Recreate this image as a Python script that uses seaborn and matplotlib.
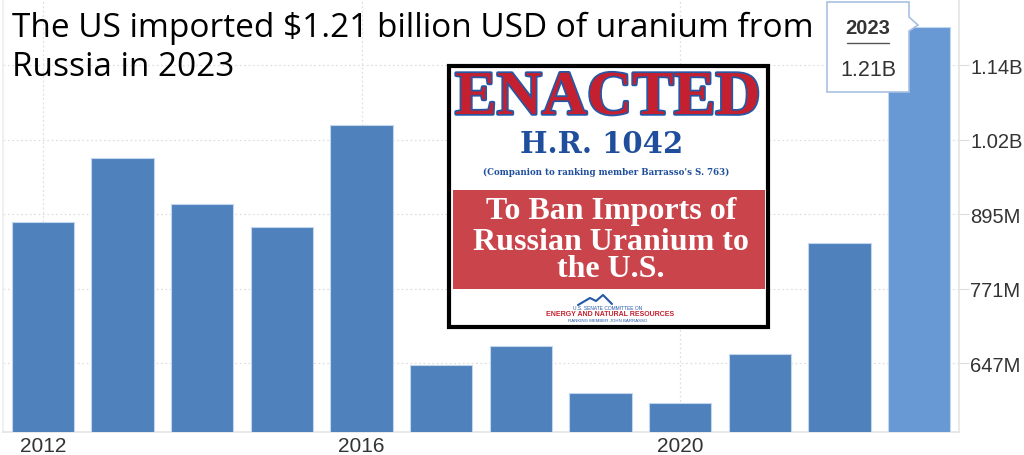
import numpy as np
import pandas as pd
import matplotlib
matplotlib.use("Agg")
import matplotlib.pyplot as plt
import matplotlib.patheffects as pe
from matplotlib.patches import Rectangle, Polygon
import seaborn as sns

# Data (USD)
years = ["2012", "2013", "2014", "2015", "2016", "2017", "2018", "2019", "2020", "2021", "2022", "2023"]
imports_musd = [882, 988, 912, 873, 1043, 644, 675, 597, 580, 662, 847, 1206]
tick_values = [647, 771, 895, 1019, 1143]
tick_labels = ["647M", "771M", "895M", "1.02B", "1.14B"]
shown_years = ["2012", "2016", "2020"]

df = pd.DataFrame({"year": years, "value": imports_musd})

sns.set_style("white")
plt.rcParams["font.family"] = ["Liberation Sans", "DejaVu Sans"]

fig = plt.figure(figsize=(10.24, 4.56), dpi=100)
ax = fig.add_axes([0.003, 0.0504, 0.9335, 0.9496])

bar_palette = {y: "#4f81bd" for y in years}
bar_palette["2023"] = "#6899d4"
sns.barplot(data=df, x="year", y="value", hue="year", palette=bar_palette, saturation=1,
            width=0.78, legend=False, ax=ax, edgecolor="#c3d6ee", linewidth=0.8,
            zorder=3)

ax.set_xlim(-0.5, 11.5)
ax.set_ylim(532.15, 1252.85)
ax.yaxis.tick_right()
ax.set_yticks(tick_values)
ax.set_yticklabels(tick_labels)
ax.set_xticks([years.index(y) for y in shown_years])
ax.set_xticklabels(shown_years)
ax.tick_params(axis="y", length=7, color="#dddddd", labelsize=14.5, labelcolor="#333333", pad=1)
ax.tick_params(axis="x", length=0, labelsize=15, labelcolor="#333333", pad=3)
ax.set_xlabel("")
ax.set_ylabel("")
ax.grid(True, color="#e0e0e0", linestyle=(0, (1.5, 2)), linewidth=0.9, zorder=0)
ax.set_axisbelow(True)
ax.spines["top"].set_visible(False)
ax.spines["right"].set_color("#e4e4e4")
ax.spines["bottom"].set_color("#e4e4e4")
ax.spines["left"].set_color("#eeeeee")
for s in ["right", "bottom", "left"]:
    ax.spines[s].set_linewidth(1.2)

# overlay in pixel coordinates for the annotations
ov = fig.add_axes([0, 0, 1, 1])
ov.set_xlim(0, 1024)
ov.set_ylim(456, 0)
ov.axis("off")

# headline
ov.text(12, 37, "The US imported $1.21 billion USD of uranium from", fontsize=24,
        family=["Open Sans", "DejaVu Sans"], color="black", va="baseline")
ov.text(12, 76, "Russia in 2023", fontsize=24,
        family=["Open Sans", "DejaVu Sans"], color="black", va="baseline")

# tooltip for the latest bar
ov.add_patch(Polygon([(827, 3), (909, 3), (909, 18), (918, 26), (909, 32), (909, 93), (827, 93)],
                     closed=True, facecolor="white", edgecolor="#a7c1e2", linewidth=1.2, zorder=5))
ov.text(868, 29, "2023", fontsize=14.5, fontweight="bold", color="#333333", ha="center", va="center", zorder=6)
ov.plot([847, 889], [44, 44], color="#555555", linewidth=1, zorder=6)
ov.text(868, 70, "1.21B", fontsize=15.5, color="#333333", ha="center", va="center", zorder=6)

# "ENACTED" poster
ov.add_patch(Rectangle((449, 67), 319, 261, facecolor="white", edgecolor="black", linewidth=3, zorder=5))
ov.add_patch(Rectangle((453, 191), 312, 99, facecolor="#c9444b", edgecolor="none", zorder=6))
serif = ["Liberation Serif", "DejaVu Serif"]
ov.text(608, 100, "ENACTED", fontsize=45, fontweight="bold", family=serif, color="#c4202f",
        ha="center", va="center", zorder=7,
        path_effects=[pe.withStroke(linewidth=2.5, foreground="#2458a6")])
ov.text(602, 145, "H.R. 1042", fontsize=21, fontweight="bold", family=["DejaVu Serif"],
        color="#1f4e9c", ha="center", va="center", zorder=7)
ov.text(606, 172, "(Companion to ranking member Barrasso's S. 763)", fontsize=6.2,
        fontweight="bold", family=["DejaVu Serif"], color="#1f4e9c", ha="center", va="center", zorder=7)
for txt, yy in [("To Ban Imports of", 212), ("Russian Uranium to", 243), ("the U.S.", 270)]:
    ov.text(611, yy, txt, fontsize=23, fontweight="bold", family=serif, color="white",
            ha="center", va="center", zorder=7)
ov.plot([578, 590, 596, 603, 612], [306, 299, 302, 296, 305], color="#2458a6", linewidth=1.5, zorder=7)
ov.text(608, 309, "U.S. SENATE COMMITTEE ON", fontsize=3.5, color="#2458a6", ha="center", va="center", zorder=7)
ov.text(610, 315, "ENERGY AND NATURAL RESOURCES", fontsize=5, fontweight="bold", color="#c4202f",
        ha="center", va="center", zorder=7)
ov.text(608, 321, "RANKING MEMBER JOHN BARRASSO", fontsize=3.2, color="#2458a6", ha="center", va="center", zorder=7)

fig.savefig("out.png", dpi=100)
